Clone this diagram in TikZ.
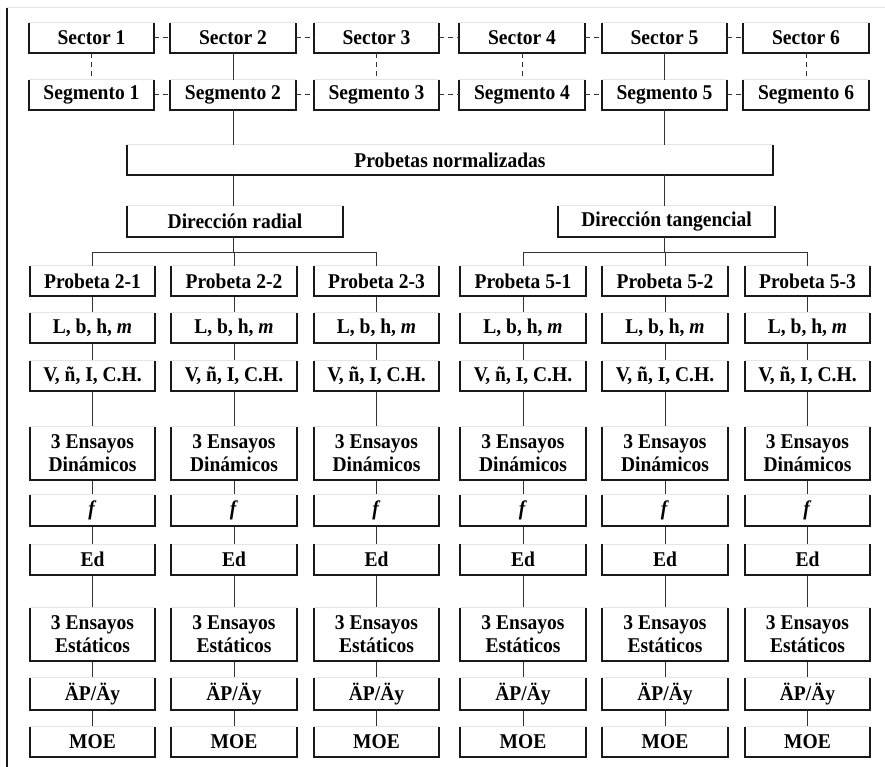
\documentclass[tikz,border=0pt]{standalone}
\usepackage{fontspec}
\setmainfont{Liberation Serif}[FakeStretch=0.93]
\begin{document}
\begin{tikzpicture}[x=1pt,y=-1pt,
  bx/.style={inner sep=0pt, minimum width=125pt, minimum height=30pt,
    font=\fontsize{21}{23}\selectfont\bfseries, align=center},
  tall/.style={minimum height=53pt},
  conn/.style={line width=1pt, black!80},
  dconn/.style={line width=1pt, black!80, dash pattern=on 5pt off 4pt},
  vdconn/.style={line width=1pt, black!80, dash pattern=on 5pt off 4pt},
  side/.style={line width=2pt, black!90, line join=miter},
  topl/.style={line width=0.8pt, black!10}
]
\useasboundingbox (0,0) rectangle (885,767);
\fill[white] (0,0) rectangle (885,767);
% page rules
\draw[topl] (7,7) -- (885,7);
\draw[line width=2pt, black!90] (7,8) -- (7,767);

% sectors and segments
\foreach \i/\x in {1/91.5,2/233,3/376.5,4/522,5/664.5,6/806}{
  \node[bx] (sec\i) at (\x,38) {Sector \i};
  \node[bx] (seg\i) at (\x,95) {Segmento \i};
}
\node[bx, minimum width=646pt] (pn) at (450,160) {Probetas normalizadas};
\node[bx, minimum width=216pt, minimum height=31pt] (rad) at (235,221.5) {Dirección radial};
\node[bx, minimum width=217pt, minimum height=31pt] (tan) at (666.5,221.5) {Dirección tangencial};

\foreach \g/\k/\x in {2/1/92.5, 2/2/234, 2/3/376.5, 5/1/523, 5/2/665, 5/3/807.5}{
  \node[bx] (p\g\k) at (\x,281) {Probeta \g-\k};
  \node[bx] (l\g\k) at (\x,328) {L, b, h, \textit{m}};
  \node[bx] (v\g\k) at (\x,376) {V, ñ, I, C.H.};
  \node[bx,tall] (d\g\k) at (\x,453.5) {3 Ensayos\\Dinámicos};
  \node[bx, minimum height=31pt] (f\g\k) at (\x,510.5) {\textit{f}};
  \node[bx] (e\g\k) at (\x,559.5) {Ed};
  \node[bx,tall] (s\g\k) at (\x,634.5) {3 Ensayos\\Estáticos};
  \node[bx, minimum height=32pt] (a\g\k) at (\x,694) {ÄP/Äy};
  \node[bx] (m\g\k) at (\x,742) {MOE};
  \draw[conn] (p\g\k) -- (l\g\k);
  \draw[conn] (l\g\k) -- (v\g\k);
  \draw[conn] (v\g\k) -- (d\g\k);
  \draw[conn] (d\g\k) -- (f\g\k);
  \draw[conn] (f\g\k) -- (e\g\k);
  \draw[conn] (e\g\k) -- (s\g\k);
  \draw[conn] (s\g\k) -- (a\g\k);
  \draw[conn] (a\g\k) -- (m\g\k);
}

% box outlines: faint top, heavy sides and bottom
\foreach \n in {sec1,sec2,sec3,sec4,sec5,sec6,seg1,seg2,seg3,seg4,seg5,seg6,pn,rad,tan}{
  \draw[topl] (\n.north west) -- (\n.north east);
  \draw[side] (\n.north west) -- (\n.south west) -- (\n.south east) -- (\n.north east);
}
\foreach \g in {2,5}{
  \foreach \k in {1,2,3}{
    \foreach \r in {p,l,v,d,f,e,s,a,m}{
      \draw[topl] (\r\g\k.north west) -- (\r\g\k.north east);
      \draw[side] (\r\g\k.north west) -- (\r\g\k.south west) -- (\r\g\k.south east) -- (\r\g\k.north east);
    }
  }
}

% dashed links between sectors / segments
\foreach \i/\j in {1/2,2/3,3/4,4/5,5/6}{
  \draw[dconn] (sec\i) -- (sec\j);
  \draw[dconn] (seg\i) -- (seg\j);
}
\foreach \i in {1,3,4,6}{ \draw[vdconn] (sec\i) -- (seg\i); }
\foreach \i in {2,5}{ \draw[conn] (sec\i) -- (seg\i); }

% main trunk
\draw[conn] (seg2) -- (seg2 |- pn.north);
\draw[conn] (seg5) -- (seg5 |- pn.north);
\draw[conn] (seg2 |- pn.south) -- (seg2 |- rad.north);
\draw[conn] (seg5 |- pn.south) -- (seg5 |- tan.north);

\coordinate (br2) at (233,252);
\coordinate (br5) at (664.5,252);
\draw[conn] (seg2 |- rad.south) -- (br2);
\draw[conn] (seg5 |- tan.south) -- (br5);
\draw[conn] (p21 |- br2) -- (p23 |- br2);
\draw[conn] (p51 |- br5) -- (p53 |- br5);
\foreach \g/\b in {2/br2,5/br5}{
  \foreach \k in {1,2,3}{ \draw[conn] (p\g\k |- \b) -- (p\g\k.north); }
}
\end{tikzpicture}
\end{document}
